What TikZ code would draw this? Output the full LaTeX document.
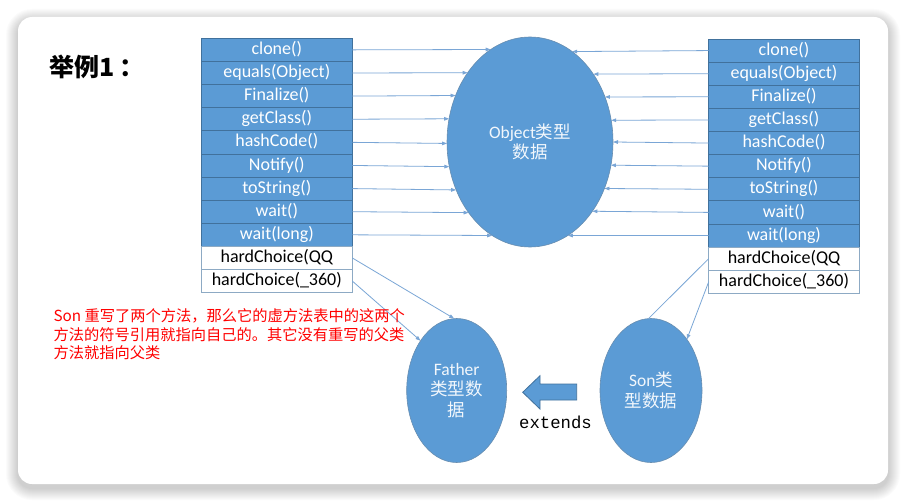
\documentclass[tikz,border=0pt]{standalone}
\usepackage{fontspec}
\setmainfont{Carlito}
\newfontfamily\cjk{Noto Sans CJK SC}
\newfontfamily\monof{Liberation Mono}
\usetikzlibrary{arrows.meta,shapes.geometric}
\definecolor{tblue}{HTML}{5B9BD5}
\definecolor{tedge}{HTML}{41719C}
\definecolor{lineblue}{HTML}{7AA6D6}
\tikzset{
  mrow/.style={draw=tedge, line width=0.8pt, fill=tblue, text=white,
    minimum width=151pt, minimum height=23.12pt, inner sep=0pt, outer sep=0pt,
    font=\fontsize{18}{20}\selectfont, text height=12.8pt, text depth=3.6pt},
  wrow/.style={mrow, fill=white, text=black, draw=tedge!60},
  conn/.style={draw=lineblue, line width=0.8pt, -{Triangle[length=5pt,width=3.6pt]}},
  plainconn/.style={draw=lineblue, line width=0.8pt},
  blob/.style={ellipse, fill=tblue, draw=tedge!80, line width=0.6pt, inner sep=0pt, outer sep=0pt,
    text=white!92!tblue, align=center, font=\fontsize{17.5}{20.5}\selectfont},
}
\begin{document}
\begin{tikzpicture}[x=1pt,y=-1pt]
\useasboundingbox (0,0) rectangle (907,503);
\fill[white] (0,0) rectangle (907,503);
% card shadow
\foreach \k in {1,...,12}{
  \pgfmathsetmacro\rr{14+\k}
  \fill[black,opacity=0.016,rounded corners=\rr pt] (18-\k,17-\k+4) rectangle (888+\k,484+\k+4);
}
\fill[white, rounded corners=14pt] (18,17) rectangle (888,484);

% title
\node[anchor=west, inner sep=0pt, font=\cjk\bfseries\fontsize{25}{28}\selectfont] (title) at (49,67) {举例1\hspace{5pt}：};

% left table
\foreach \t [count=\n] in {clone(), equals(Object), Finalize(), getClass(), hashCode(), Notify(), toString(), wait(), wait(long)}{
  \pgfmathsetmacro\yy{38.3+23.12*(\n-0.5)}
  \node[mrow] (L\n) at (276.8,\yy) {\t};
}
\node[wrow] (L10) at (276.8,{38.3+23.12*9.5}) {hardChoice(QQ};
\node[wrow] (L11) at (276.8,{38.3+23.12*10.5}) {hardChoice(\_360)};

% right table
\foreach \t [count=\n] in {clone(), equals(Object), Finalize(), getClass(), hashCode(), Notify(), toString(), wait(), wait(long)}{
  \pgfmathsetmacro\yy{39+23.12*(\n-0.5)}
  \node[mrow, minimum width=150.6pt] (R\n) at (784,\yy) {\t};
}
\node[wrow, minimum width=150.6pt] (R10) at (784,{39+23.12*9.5}) {hardChoice(QQ};
\node[wrow, minimum width=150.6pt] (R11) at (784,{39+23.12*10.5}) {hardChoice(\_360)};

% ellipses
\node[blob, minimum width=166pt, minimum height=210pt] (obj) at (530,142) {Object{\cjk 类型}\\{\cjk 数据}};
\node[blob, minimum width=100pt, minimum height=144pt] (fa) at (456.7,390.5) {Father\\{\cjk 类型数}\\{\cjk 据}};
\node[blob, minimum width=102pt, minimum height=144pt] (son) at (651,390.5) {Son{\cjk 类}\\{\cjk 型数据}};

% arrows to Object
\foreach \n in {1,...,9}{
  \pgfmathsetmacro\dy{142-(38.3+23.12*(\n-0.5))}
  \pgfmathsetmacro\xo{83*sqrt(1-(\dy/105)^2)}
  \pgfmathsetmacro\ang{atan2(\dy,-\xo)}
  \draw[conn] (L\n.east) -- (obj.\ang);
  \pgfmathsetmacro\dyr{142-(39+23.12*(\n-0.5))}
  \pgfmathsetmacro\xor{83*sqrt(1-(\dyr/105)^2)}
  \pgfmathsetmacro\angr{atan2(\dyr,\xor)}
  \draw[conn] (R\n.west) -- (obj.\angr);
}

% overridden methods
\draw[conn] (L10.east) -- (fa.92);
\draw[conn] (L11.east) -- (fa.126);
\draw[plainconn] (R10.west) -- (son.92);
\draw[conn] (R11.west) -- (son.55);

% extends block arrow
\draw[fill=tblue, draw=tedge, line width=0.8pt, line join=miter]
  (522.7,392.3) -- (540,375.7) -- (540,384) -- (576.7,384) -- (576.7,400) -- (540,400) -- (540,409) -- cycle;
\node[inner sep=0pt, font=\monof\fontsize{17.3}{20}\selectfont] (ext) at (555.5,422) {extends};

% red note
\node[anchor=north west, align=left, inner sep=0pt, text=red,
  font=\cjk\fontsize{15.25}{18.3}\selectfont] (note) at (53.3,308.6)
  {Son 重写了两个方法，那么它的虚方法表中的这两个\\方法的符号引用就指向自己的。其它没有重写的父类\\方法就指向父类};
\end{tikzpicture}
\end{document}
